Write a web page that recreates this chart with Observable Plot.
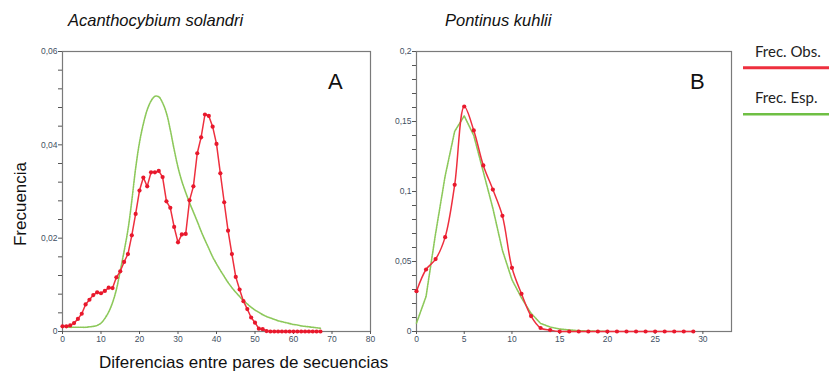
<!DOCTYPE html>
<html><head><meta charset="utf-8">
<script src="https://cdn.jsdelivr.net/npm/d3@7"></script>
<script src="https://cdn.jsdelivr.net/npm/@observablehq/plot@0.6"></script>
<style>
html,body{margin:0;padding:0;background:#fff;}
#root{position:relative;width:829px;height:373px;overflow:hidden;font-family:"Liberation Sans",Arial,sans-serif;}
#root svg{position:absolute;}
</style></head><body><div id="root"></div>
<script>
// ---------- Data: panel A (Acanthocybium solandri) ----------
const diffA = [0,1,2,3,4,5,6,7,8,9,10,11,12,13,14,15,16,17,18,19,20,21,22,23,24,25,26,27,28,29,30,31,32,33,34,35,36,37,38,39,40,41,42,43,44,45,46,47,48,49,50,51,52,53,54,55,56,57,58,59,60,61,62,63,64,65,66,67];
const obsA = [0.0011,0.0011,0.0013,0.0018,0.0027,0.0038,0.0058,0.0068,0.0078,0.0084,
  0.0082,0.0087,0.0094,0.0093,0.0116,0.0129,0.0149,0.0166,0.0206,0.0252,
  0.0302,0.0330,0.0311,0.0341,0.0341,0.0344,0.0331,0.0279,0.0265,0.0224,
  0.0191,0.0208,0.0209,0.0281,0.0311,0.0382,0.0416,0.0465,0.0462,0.0439,
  0.0402,0.0339,0.0277,0.0216,0.0166,0.0117,0.0090,0.0065,0.0048,0.0030,
  0.0019,0.0006,0.0005,0.0001,0,0,0,0,0,0,
  0,0,0,0,0,0,0,0];
const espA = [0.0011,0.0010,0.0009,0.0009,0.0009,0.0009,0.0009,0.0010,0.0011,0.0013,
  0.0018,0.0028,0.0042,0.0062,0.0090,0.0130,0.0172,0.0218,0.0280,0.0350,
  0.0405,0.0445,0.0475,0.0494,0.0504,0.0503,0.0490,0.0468,0.0432,0.0390,
  0.0352,0.0322,0.0298,0.0276,0.0256,0.0236,0.0215,0.0196,0.0178,0.0160,
  0.0145,0.0131,0.0118,0.0105,0.0094,0.0084,0.0075,0.0066,0.0059,0.0052,
  0.0046,0.0041,0.0036,0.0032,0.0029,0.0026,0.0023,0.0021,0.0019,0.0017,
  0.0015,0.0014,0.0012,0.0011,0.0010,0.0009,0.0008,0.0007];

// ---------- Data: panel B (Pontinus kuhlii) ----------
const diffB = [0,1,2,3,4,5,6,7,8,9,10,11,12,13,14,15,16,17,18,19,20,21,22,23,24,25,26,27,28,29];
const obsB = [0.0288,0.0443,0.0517,0.0674,0.1048,0.1607,0.1436,0.1186,0.1014,0.0826,
  0.0455,0.0269,0.0110,0.0025,0.0010,0,0,0,0,0,
  0,0,0,0,0,0,0,0,0,0];
const diffBEsp = [0,1,2,3,4,5,6,7,8,9,10,11,12,13,14,15,16,17,18,19,20];
const espB = [0.006,0.025,0.070,0.111,0.143,0.154,0.140,0.114,0.088,0.058,
  0.037,0.024,0.013,0.0058,0.0032,0.0018,0.0011,0.0006,0.0003,0.0002,0.0001];

// ---------- Ticks ----------
const xTicksA = [0,10,20,30,40,50,60,70,80];
const yTicksA = [0,0.02,0.04,0.06];
const yTickLabelsA = ["0","0,02","0,04","0,06"];
const yMinorA = [0.004,0.008,0.012,0.016,0.024,0.028,0.032,0.036,0.044,0.048,0.052,0.056];
const xTicksB = [0,5,10,15,20,25,30];
const yTicksB = [0,0.05,0.1,0.15,0.2];
const yTickLabelsB = ["0","0,05","0,1","0,15","0,2"];
const yMinorB = [0.01,0.02,0.03,0.04,0.06,0.07,0.08,0.09,0.11,0.12,0.13,0.14,0.16,0.17,0.18,0.19];

// ---------- Text ----------
const titleA = "Acanthocybium solandri";
const titleB = "Pontinus kuhlii";
const xTitle = "Diferencias entre pares de secuencias";
const yTitle = "Frecuencia";
const legendLabels = ["Frec. Obs.", "Frec. Esp."];

const RED = "#ee2f3e", REDDOT = "#e8182c", GREEN = "#8cc85a";
const TICKCOL = "#3f5063", FRAME = "#7a7a7a";
const tickFont = "'Liberation Sans',Arial,sans-serif";

const tableA = diffA.map((d,i)=>({d, obs: obsA[i], esp: espA[i]}));
const tableBObs = diffB.map((d,i)=>({d, v: obsB[i]}));
const tableBEsp = diffBEsp.map((d,i)=>({d, v: espB[i]}));

function panel({width, ml, mr, xDomain, yDomain, xTicks, yTicks, yLabels, yMinor, marks}) {
  return Plot.plot({
    width, height: 310,
    marginLeft: ml, marginRight: mr, marginTop: 11, marginBottom: 19,
    x: {domain: xDomain, label: null},
    y: {domain: yDomain, label: null},
    style: {background: "transparent", overflow: "visible", fontFamily: tickFont},
    marks: [
      Plot.frame({stroke: FRAME, strokeWidth: 1.2}),
      Plot.axisY(yMinor, {tickSize: 4, tickFormat: () => "", stroke: "#555", label: null}),
      Plot.axisY(yTicks, {tickSize: 4, tickPadding: 1, stroke: "#555", fill: TICKCOL, fontSize: 8.5,
        tickFormat: d => yLabels[yTicks.indexOf(d)], label: null}),
      Plot.axisX(xTicks, {tickSize: 3, tickPadding: 1, stroke: "#555", fill: TICKCOL, fontSize: 8.5, label: null}),
      ...marks
    ]
  });
}

const plotA = panel({
  width: 380, ml: 62, mr: 10, xDomain: [0,80], yDomain: [0,0.06],
  xTicks: xTicksA, yTicks: yTicksA, yLabels: yTickLabelsA, yMinor: yMinorA,
  marks: [
    Plot.line(tableA, {x: "d", y: "esp", stroke: GREEN, strokeWidth: 1.6, strokeDasharray: "1.5,1", curve: "catmull-rom"}),
    Plot.line(tableA, {x: "d", y: "obs", stroke: RED, strokeWidth: 1.5}),
    Plot.dot(tableA, {x: "d", y: "obs", r: 2.1, fill: REDDOT, stroke: "none"})
  ]
});
plotA.style.left = "0px"; plotA.style.top = "40px";

const plotB = panel({
  width: 360, ml: 36, mr: 9, xDomain: [0,33], yDomain: [0,0.2],
  xTicks: xTicksB, yTicks: yTicksB, yLabels: yTickLabelsB, yMinor: yMinorB,
  marks: [
    Plot.line(tableBEsp, {x: "d", y: "v", stroke: GREEN, strokeWidth: 1.6, strokeDasharray: "1.5,1"}),
    Plot.line(tableBObs, {x: "d", y: "v", stroke: RED, strokeWidth: 1.5, curve: "catmull-rom"}),
    Plot.dot(tableBObs, {x: "d", y: "v", r: 2.1, fill: REDDOT, stroke: "none"})
  ]
});
plotB.style.left = "380px"; plotB.style.top = "40px";

const root = document.getElementById("root");
root.appendChild(plotA);
root.appendChild(plotB);

// ---------- Annotations overlay ----------
const ns = "http://www.w3.org/2000/svg";
const over = document.createElementNS(ns, "svg");
over.setAttribute("width", 829); over.setAttribute("height", 373);
over.style.left = "0px"; over.style.top = "0px";
function txt(s, x, y, attrs) {
  const t = document.createElementNS(ns, "text");
  t.textContent = s; t.setAttribute("x", x); t.setAttribute("y", y);
  for (const k in attrs) t.setAttribute(k, attrs[k]);
  over.appendChild(t); return t;
}
function seg(x1, y1, x2, y2, color, w) {
  const l = document.createElementNS(ns, "line");
  l.setAttribute("x1", x1); l.setAttribute("y1", y1); l.setAttribute("x2", x2); l.setAttribute("y2", y2);
  l.setAttribute("stroke", color); l.setAttribute("stroke-width", w);
  over.appendChild(l);
}
const base = {"font-family": "'Liberation Sans',Arial,sans-serif", fill: "#111"};
txt(titleA, 68, 26, {...base, "font-size": 16.5, "font-style": "italic"});
txt(titleB, 445, 26, {...base, "font-size": 16.5, "font-style": "italic"});
txt(xTitle, 99, 368, {...base, "font-size": 17});
txt(yTitle, 0, 0, {...base, "font-size": 17, "text-anchor": "middle", transform: "translate(26,204) rotate(-90)"});
txt("A", 328, 89, {...base, "font-size": 22});
txt("B", 690, 89, {...base, "font-size": 22});
const legFont = {"font-family": "Lato,'Open Sans',sans-serif", "font-size": 15, fill: "#222"};
txt(legendLabels[0], 755, 57, legFont);
seg(743, 67.7, 829, 67.7, RED, 3);
txt(legendLabels[1], 755, 103, legFont);
seg(743, 114.3, 829, 114.3, "#6fbf44", 2.5);
root.appendChild(over);
</script></body></html>
